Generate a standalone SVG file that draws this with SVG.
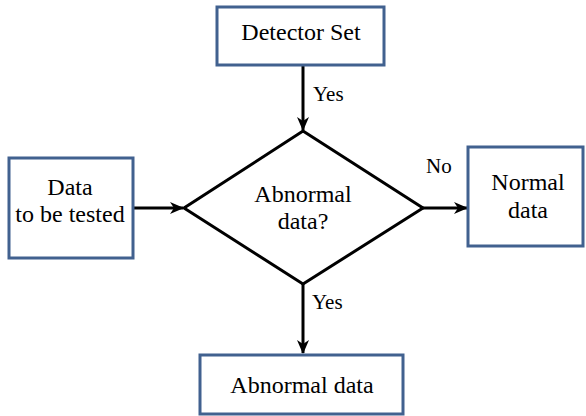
<svg xmlns="http://www.w3.org/2000/svg" width="586" height="416" viewBox="0 0 586 416">
<defs>
<style>
.box{fill:#fff;stroke:#41618f;stroke-width:3}
.dia{fill:#fff;stroke:#000;stroke-width:3;stroke-linejoin:miter}
.con{fill:none;stroke:#000;stroke-width:3}
</style>
<marker id="ah" viewBox="0 0 14 12" refX="13" refY="6" markerWidth="14" markerHeight="12" markerUnits="userSpaceOnUse" orient="auto">
<path d="M0,0 L14,6 L0,12 L4,6 z" fill="#000"/>
</marker>
</defs>
<rect width="586" height="416" fill="#fff"/>
<g id="connectors">
<line class="con" x1="303" y1="66" x2="303" y2="130" marker-end="url(#ah)"/>
<line class="con" x1="134" y1="208" x2="183" y2="208" marker-end="url(#ah)"/>
<line class="con" x1="423" y1="208" x2="467" y2="208" marker-end="url(#ah)"/>
<line class="con" x1="303" y1="283" x2="303" y2="353" marker-end="url(#ah)"/>
<text font-family="Liberation Serif, serif" font-size="21" x="313" y="101">Yes</text>
<text font-family="Liberation Serif, serif" font-size="21" x="426" y="173">No</text>
<text font-family="Liberation Serif, serif" font-size="21" x="312" y="309">Yes</text>
</g>
<g id="detector">
<rect class="box" x="217" y="7" width="167" height="58"/>
<text font-family="Liberation Serif, serif" font-size="24" text-anchor="middle" x="301" y="40">Detector Set</text>
</g>
<g id="data">
<rect class="box" x="9" y="158" width="124" height="100"/>
<text font-family="Liberation Serif, serif" font-size="24" text-anchor="middle" x="70" y="195">Data</text>
<text font-family="Liberation Serif, serif" font-size="24" text-anchor="middle" x="70" y="222">to be tested</text>
</g>
<g id="decision">
<polygon class="dia" points="303,131 423,208 303,284 184,208"/>
<text font-family="Liberation Serif, serif" font-size="24" text-anchor="middle" x="303" y="202">Abnormal</text>
<text font-family="Liberation Serif, serif" font-size="24" text-anchor="middle" x="303" y="229">data?</text>
</g>
<g id="normal">
<rect class="box" x="468" y="147" width="115" height="99"/>
<text font-family="Liberation Serif, serif" font-size="24" text-anchor="middle" x="528" y="190">Normal</text>
<text font-family="Liberation Serif, serif" font-size="24" text-anchor="middle" x="528" y="218">data</text>
</g>
<g id="abnormal">
<rect class="box" x="200" y="355" width="203" height="59"/>
<text font-family="Liberation Serif, serif" font-size="24" text-anchor="middle" x="302" y="393">Abnormal data</text>
</g>
</svg>
